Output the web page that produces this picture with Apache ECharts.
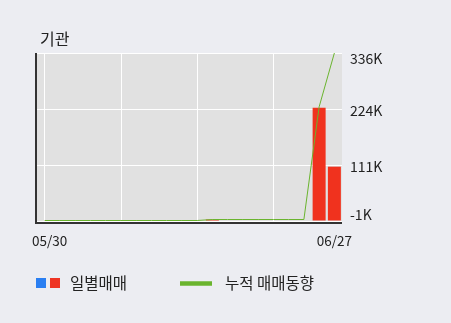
<!DOCTYPE html>
<html>
<head>
<meta charset="utf-8">
<script src="https://cdn.jsdelivr.net/npm/echarts@6/dist/echarts.min.js"></script>
<style>
html,body{margin:0;padding:0;background:#ecedf2;}
#c{width:451px;height:323px;}
</style>
</head>
<body>
<div id="c"></div>
<script>
const categories = ['05/30','05/31','06/03','06/04','06/05','06/07','06/10','06/11','06/12','06/13','06/14','06/17','06/18','06/19','06/20','06/21','06/24','06/25','06/26','06/27'];
const dailyValues = [0,0,0,0,0,0,0,0,0,0,0,2000,0,0,0,0,0,0,226000,108000];
const cumulativeValues = [0,0,0,0,0,0,0,0,0,0,0,2000,2000,2000,2000,2000,2000,2000,228000,336000];
const yMin = -1000, yMax = 336000;
const yTickLabels = ['-1K','111K','224K','336K'];

const chart = echarts.init(document.getElementById('c'), null, {renderer:'canvas'});
const font = '"Noto Sans CJK KR", "Noto Sans", sans-serif';
const interval = (yMax - yMin) / 3;
chart.setOption({
  animation:false,
  backgroundColor:'#ecedf2',
  grid:{left:37,right:109,top:53,bottom:102,show:true,backgroundColor:'#e1e1e1',borderWidth:0},
  title:{text:'기관',left:35,top:26,textStyle:{fontFamily:font,fontSize:16,fontWeight:'normal',color:'#222'}},
  xAxis:{
    type:'category',data:categories,boundaryGap:true,
    axisLine:{show:false},
    axisTick:{show:false},
    axisLabel:{
      interval:function(i){return i===0||i===categories.length-1;},
      color:'#222',fontFamily:font,fontSize:13.5,margin:13,
      formatter:function(v,i){return i===0?'{f|'+v+'}':v;},
      rich:{f:{padding:[0,0,0,10],fontFamily:font,fontSize:13.5,color:'#222'}}
    },
    splitLine:{show:true,interval:4,alignWithLabel:true,lineStyle:{color:'#ffffff',width:1}}
  },
  yAxis:{
    type:'value',position:'right',min:yMin,max:yMax,interval:interval,
    axisLine:{show:false},axisTick:{show:false},
    splitLine:{show:true,lineStyle:{color:'#ffffff',width:1}},
    axisLabel:{
      margin:8,color:'#222',fontFamily:font,fontSize:14,
      formatter:function(v){
        const idx = Math.round((v - yMin)/interval);
        const t = yTickLabels[idx];
        if (idx === 3) return '{top|'+t+'}';
        if (idx === 0) return '{bot|'+t+'}';
        return '{mid|'+t+'}';
      },
      rich:{
        top:{padding:[12,0,0,0],fontSize:14,fontFamily:font,color:'#222'},
        mid:{padding:[3,0,0,0],fontSize:14,fontFamily:font,color:'#222'},
        bot:{padding:[0,0,13,0],fontSize:14,fontFamily:font,color:'#222'}
      }
    }
  },
  series:[
    {type:'bar',data:dailyValues,barWidth:13,itemStyle:{color:'#f0321e'},z:2},
    {type:'line',data:cumulativeValues,symbol:'none',lineStyle:{color:'#6ab42e',width:1},z:3}
  ],
  graphic:[
    {type:'line',z:1,shape:{x1:36,y1:53,x2:36,y2:224},style:{stroke:'#333',lineWidth:2}},
    {type:'line',z:1,shape:{x1:35,y1:223,x2:342,y2:223},style:{stroke:'#333',lineWidth:2}},
    {type:'rect',shape:{x:36,y:278,width:10,height:10},style:{fill:'#2a7ff2'}},
    {type:'rect',shape:{x:50,y:278,width:10,height:10},style:{fill:'#ee3524'}},
    {type:'text',style:{x:70,y:283,text:'일별매매',fill:'#222',font:'15.5px '+font,textVerticalAlign:'middle'}},
    {type:'line',shape:{x1:180,y1:283.5,x2:212,y2:283.5},style:{stroke:'#6ab42e',lineWidth:4.5}},
    {type:'text',style:{x:225,y:283,text:'누적 매매동향',fill:'#222',font:'15.5px '+font,textVerticalAlign:'middle'}}
  ]
});
</script>
</body>
</html>
